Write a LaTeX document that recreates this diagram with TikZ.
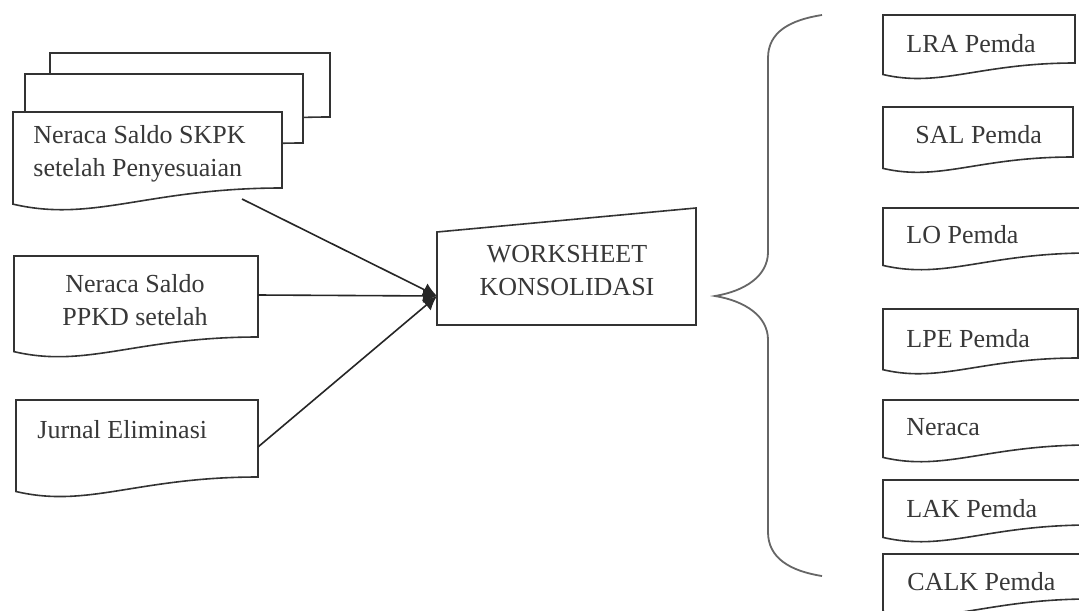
\documentclass[tikz,border=0pt]{standalone}
\usepackage{fontspec}
\setmainfont{Liberation Serif}
\usetikzlibrary{arrows.meta}
\newcommand\docshape[5]{%
  \pgfmathsetmacro\docW{#3-#1}%
  \draw[#5] (#3,#4) -- (#3,#2) -- (#1,#2) -- (#1,{#4+0.06*\docW})
    .. controls ({#1+0.3*\docW},{#4+0.13*\docW}) and ({#3-0.5*\docW},#4) .. (#3,#4) -- cycle;
}
\begin{document}
\begin{tikzpicture}[x=0.5pt,y=-0.5pt,
  docline/.style={draw=black!80, line width=0.8pt, fill=white},
  txt/.style={font=\fontsize{13}{16.5}\selectfont, text=black!78, inner sep=0pt},
  conn/.style={draw=black!85, line width=0.8pt, -{Latex[length=7pt,width=7pt]}},
  bracestyle/.style={draw=black!60, line width=0.9pt}]
\useasboundingbox (0,0) rectangle (1079,610);
\clip (0,0) rectangle (1079,610);
\fill[white] (0,0) rectangle (1079,610);
% stacked documents
\docshape{50}{53}{330}{117}{docline}
\docshape{25}{74}{303}{143}{docline}
\docshape{13}{112}{282}{188}{docline}
\node[txt, align=left, anchor=north west] (skpk) at (33,125) {Neraca Saldo SKPK\\setelah Penyesuaian};
% PPKD
\docshape{14}{256}{258}{337}{docline}
\node[txt, align=center] (ppkd) at (135,300) {Neraca Saldo\\PPKD setelah};
% Jurnal
\docshape{16}{400}{258}{477}{docline}
\node[txt, anchor=base west] (jurnal) at (37,438) {Jurnal Eliminasi};
% worksheet
\draw[docline] (437,232) -- (696,208) -- (696,325) -- (437,325) -- cycle;
\node[txt, align=center] (ws) at (567,271) {WORKSHEET\\KONSOLIDASI};
% connectors
\coordinate (skpk-out) at (242,199);
\coordinate (ppkd-out) at (258,295);
\coordinate (jurnal-out) at (258,447);
\coordinate (ws-in) at (437,296);
\draw[conn] (skpk-out) -- (ws-in);
\draw[conn] (ppkd-out) -- (ws-in);
\draw[conn] (jurnal-out) -- (ws-in);
% brace
\draw[bracestyle] (822,15) .. controls (790,20) and (768,32) .. (768,58) -- (768,252)
  .. controls (768,276) and (745,291) .. (715,296)
  .. controls (745,301) and (768,316) .. (768,340) -- (768,532)
  .. controls (768,558) and (790,571) .. (822,576);
% outputs
\docshape{883}{15}{1075}{63}{docline}
\node[txt, anchor=base west] (lra) at (906,53) {LRA Pemda};
\docshape{883}{107}{1073}{157}{docline}
\node[txt, anchor=base west] (sal) at (915,143) {SAL Pemda};
\docshape{883}{208}{1090}{253}{docline}
\node[txt, anchor=base west] (lo) at (906,243) {LO Pemda};
\docshape{883}{309}{1078}{358}{docline}
\node[txt, anchor=base west] (lpe) at (906,347) {LPE Pemda};
\docshape{883}{400}{1090}{445}{docline}
\node[txt, anchor=base west] (neraca) at (906,435) {Neraca};
\docshape{883}{480}{1090}{525}{docline}
\node[txt, anchor=base west] (lak) at (906,517) {LAK Pemda};
\docshape{883}{554}{1090}{599}{docline}
\node[txt, anchor=base west] (calk) at (907,590) {CALK Pemda};
\end{tikzpicture}
\end{document}
